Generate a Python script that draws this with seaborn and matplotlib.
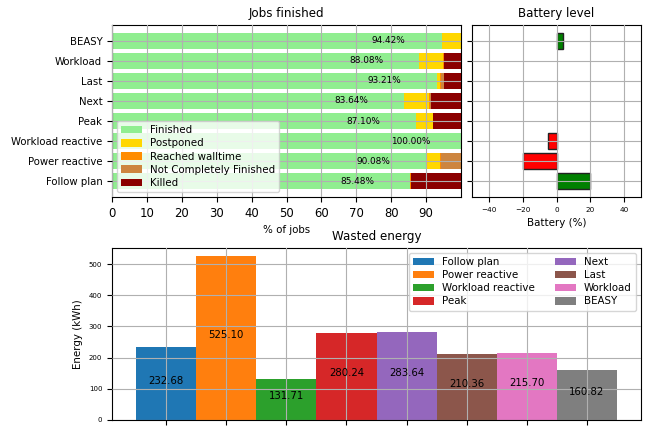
import numpy as np
import pandas as pd
import matplotlib
matplotlib.use("Agg")
import matplotlib.pyplot as plt
import seaborn as sns

# ---------------- data ----------------
strategies = ["Follow plan", "Power reactive", "Workload reactive", "Peak",
              "Next", "Last", "Workload", "BEASY"]
finished = [85.48, 90.08, 100.00, 87.10, 83.64, 93.21, 88.08, 94.42]
postponed = [0.00, 3.80, 0.00, 4.80, 7.30, 0.90, 6.72, 5.58]
walltime = [0.20, 0.40, 0.00, 0.10, 0.10, 0.10, 0.20, 0.00]
not_complete = [0.00, 5.72, 0.00, 0.10, 0.50, 1.00, 0.00, 0.00]
killed = [14.32, 0.00, 0.00, 7.90, 8.46, 4.79, 5.00, 0.00]
battery = [20, -20, -5, 0, 0, 0, 0, 4]
energy = [232.68, 525.10, 131.71, 280.24, 283.64, 210.36, 215.70, 160.82]

status_names = ["Finished", "Postponed", "Reached walltime",
                "Not Completely Finished", "Killed"]
status_colors = ["lightgreen", "gold", "darkorange", "peru", "darkred"]
energy_colors = sns.color_palette("tab10", 8)

# display order for horizontal charts (top to bottom)
order = strategies[::-1]

# ---------------- figure ----------------
W, H = 649, 426
fig = plt.figure(figsize=(W / 100, H / 100), dpi=100)


def px_axes(l, t, r, b):
    return fig.add_axes([l / W, 1 - b / H, (r - l) / W, (b - t) / H])


ax1 = px_axes(112, 25, 461, 197)
ax2 = px_axes(472, 25, 641, 197)
ax3 = px_axes(112, 248, 641, 420)

GRID = dict(color="#b0b0b0", linewidth=0.8)

# ---------------- Jobs finished (stacked) ----------------
df = pd.DataFrame({"strategy": strategies, "Finished": finished,
                   "Postponed": postponed, "Reached walltime": walltime,
                   "Not Completely Finished": not_complete, "Killed": killed})
df = df.set_index("strategy").loc[order].reset_index()
left = np.zeros(len(df))
for name, col in zip(status_names, status_colors):
    sns.barplot(x=df[name].values, y=df["strategy"].values, order=order,
                color=col, saturation=1, width=0.8, left=left.copy(),
                linewidth=0, ax=ax1, label=name)
    left += df[name].values

for i, f in enumerate(df["Finished"].values):
    ax1.text(f - 20, i, f"{f:.2f}%", ha="left", va="center", fontsize=6.4)

ax1.set_xlim(0, 100)
ax1.set_xticks(np.arange(0, 100, 10))
ax1.set_ylim(7.79, -0.79)
ax1.set_xlabel("% of jobs", fontsize=7.4)
ax1.set_ylabel("")
ax1.set_title("Jobs finished", fontsize=8.6)
ax1.tick_params(axis="x", labelsize=8.4)
ax1.tick_params(axis="y", labelsize=7.3)
ax1.grid(True, **GRID)
ax1.set_axisbelow(False)
h, l = ax1.get_legend_handles_labels()
hd = dict(zip(l, h))
ax1.legend([hd[n] for n in status_names], status_names, loc="lower left",
           fontsize=7.4, labelspacing=0.3)

# ---------------- Battery level ----------------
bat_colors = {s: ("green" if v >= 0 else "red") for s, v in zip(strategies, battery)}
sns.barplot(x=battery, y=strategies, order=order, hue=strategies,
            hue_order=order, palette=bat_colors, saturation=1, width=0.8,
            dodge=False, legend=False, edgecolor="#222222", linewidth=1,
            ax=ax2)
for p in ax2.patches:
    if p.get_width() == 0:
        p.set_linewidth(0)
ax2.set_xlim(-50, 50)
ax2.set_xticks([-40, -20, 0, 20, 40])
ax2.set_ylim(7.79, -0.79)
ax2.set_yticks(range(len(order)))
ax2.set_yticklabels([])
ax2.set_ylabel("")
ax2.set_xlabel("Battery (%)", fontsize=7.4)
ax2.set_title("Battery level", fontsize=8.6)
ax2.tick_params(axis="x", labelsize=5.2)
ax2.grid(True, **GRID)
ax2.set_axisbelow(False)

# ---------------- Wasted energy ----------------
sns.barplot(x=strategies, y=energy, hue=strategies, hue_order=strategies,
            palette=energy_colors, saturation=1, width=1, dodge=False,
            legend=False, linewidth=0, ax=ax3)
for i, v in enumerate(energy):
    ax3.text(i, v / 2, f"{v:.2f}", ha="center", fontsize=7.3)
ax3.set_xlim(-0.9, 7.9)
ax3.set_xticks(range(len(strategies)))
ax3.set_xticklabels([])
ax3.set_xlabel("")
ax3.set_ylabel("Energy (kWh)", fontsize=7.4)
ax3.set_title("Wasted energy", fontsize=8.6)
ax3.tick_params(axis="y", labelsize=5)
ax3.grid(True, **GRID)
ax3.set_axisbelow(False)
ax3.legend(ax3.patches[:len(strategies)], strategies, loc="upper right",
           ncol=2, fontsize=7.4, labelspacing=0.3)

fig.savefig("out.png", dpi=100)
